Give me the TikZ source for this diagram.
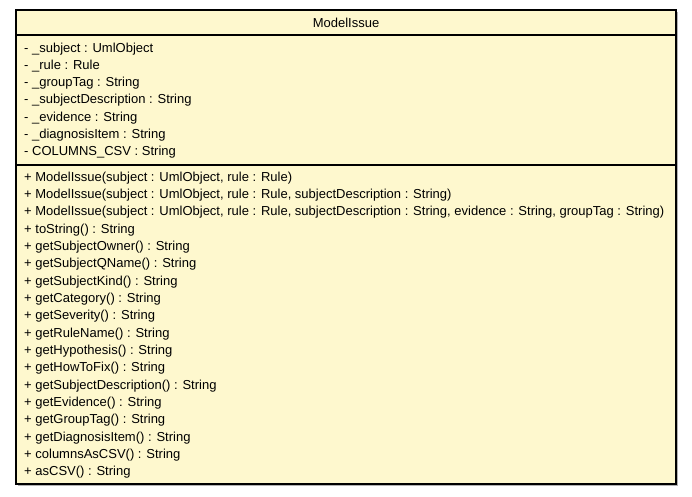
\documentclass[tikz,border=0pt]{standalone}
\usepackage{fontspec}
\setmainfont{Liberation Sans}
\usepackage{tikz}

\definecolor{classfill}{RGB}{254,248,206}

\tikzset{
  member/.style={anchor=base west, inner sep=0pt, font=\fontsize{13}{15}\selectfont},
  classname/.style={anchor=base, inner sep=0pt, font=\fontsize{13}{15}\selectfont}
}

\begin{document}
\begin{tikzpicture}[x=1pt, y=-1pt]
                \useasboundingbox (0,0) rectangle (692,496);
                % box with its shadow
                \fill[gray!60] (17.5,11.5) rectangle (677.5,485.5);
                \draw[fill=classfill, line width=1.1pt] (16,10) rectangle (676,484);
                \draw[line width=1.1pt] (16,35) -- (676,35);
                \draw[line width=1.1pt] (16,165) -- (676,165);

                \node[classname] (title) at (346,27) {ModelIssue};

                % attributes
                \foreach \txt [count=\i] in {
                    - \_subject : UmlObject,
                    - \_rule : Rule,
                    - \_groupTag : String,
                    - \_subjectDescription : String,
                    - \_evidence : String,
                    - \_diagnosisItem : String,
                    - COLUMNS\_CSV : String}
                    \node[member] (attr\i) at (24,{52+(\i-1)*17.33}) {\txt};

                % operations
                \foreach \txt [count=\i] in {
                    + ModelIssue(subject : UmlObject{,} rule : Rule),
                    + ModelIssue(subject : UmlObject{,} rule : Rule{,} subjectDescription : String),
                    + ModelIssue(subject : UmlObject{,} rule : Rule{,} subjectDescription : String{,} evidence : String{,} groupTag : String),
                    + toString() : String,
                    + getSubjectOwner() : String,
                    + getSubjectQName() : String,
                    + getSubjectKind() : String,
                    + getCategory() : String,
                    + getSeverity() : String,
                    + getRuleName() : String,
                    + getHypothesis() : String,
                    + getHowToFix() : String,
                    + getSubjectDescription() : String,
                    + getEvidence() : String,
                    + getGroupTag() : String,
                    + getDiagnosisItem() : String,
                    + columnsAsCSV() : String,
                    + asCSV() : String}
                    \node[member] (op\i) at (24,{181+(\i-1)*17.35}) {\txt};
            \end{tikzpicture}
\end{document}
